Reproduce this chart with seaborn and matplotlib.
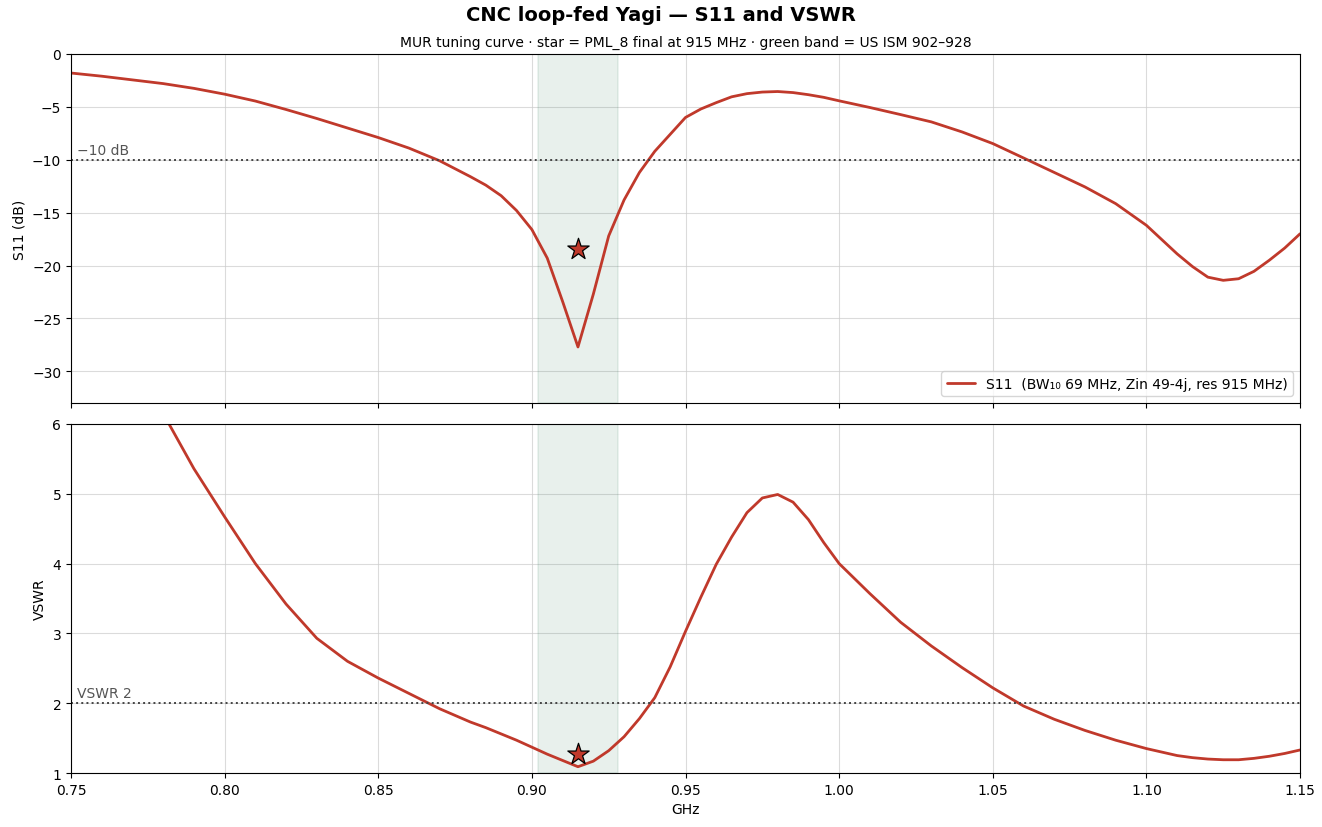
import numpy as np
import pandas as pd
import matplotlib
matplotlib.use("Agg")
import matplotlib.pyplot as plt
import seaborn as sns

# sweep points (GHz)
freq = [0.75, 0.76, 0.77, 0.78, 0.79, 0.80, 0.81, 0.82, 0.83, 0.84,
        0.85, 0.86, 0.87, 0.88, 0.885, 0.89, 0.895, 0.90, 0.905, 0.91,
        0.915, 0.92, 0.925, 0.93, 0.935, 0.94, 0.945, 0.95, 0.955, 0.96,
        0.965, 0.97, 0.975, 0.98, 0.985, 0.99, 0.995, 1.00, 1.01, 1.02,
        1.03, 1.04, 1.05, 1.06, 1.07, 1.08, 1.09, 1.10, 1.11, 1.115,
        1.12, 1.125, 1.13, 1.135, 1.14, 1.145, 1.15]

s11_db = [-1.8, -2.1, -2.45, -2.8, -3.25, -3.8, -4.45, -5.25, -6.1, -7.0,
          -7.9, -8.9, -10.1, -11.6, -12.4, -13.4, -14.8, -16.6, -19.3, -23.4,
          -27.7, -22.7, -17.2, -13.8, -11.2, -9.2, -7.6, -6.0, -5.2, -4.6,
          -4.05, -3.75, -3.6, -3.55, -3.65, -3.85, -4.1, -4.43, -5.06, -5.73,
          -6.42, -7.37, -8.47, -9.83, -11.2, -12.57, -14.15, -16.2, -18.9, -20.1,
          -21.1, -21.4, -21.25, -20.55, -19.5, -18.35, -17.0]

vswr = [8.6, 7.7, 6.9, 6.15, 5.36, 4.67, 4.0, 3.42, 2.93, 2.6,
        2.36, 2.14, 1.92, 1.73, 1.65, 1.56, 1.47, 1.37, 1.27, 1.18,
        1.09, 1.17, 1.32, 1.52, 1.78, 2.08, 2.52, 3.03, 3.52, 3.99,
        4.38, 4.73, 4.94, 4.99, 4.88, 4.63, 4.30, 4.0, 3.57, 3.16,
        2.82, 2.51, 2.22, 1.96, 1.77, 1.61, 1.47, 1.35, 1.25, 1.22,
        1.20, 1.19, 1.19, 1.21, 1.24, 1.28, 1.33]

# final PML_8 point
star_f = 0.915
star_s11 = -18.4
star_vswr = 1.27

ism_band = (0.902, 0.928)

df = pd.DataFrame({"GHz": freq, "S11": s11_db, "VSWR": vswr})

red = "#c0392b"

sns.set_style("ticks")
plt.rcParams.update({
    "font.family": ["DejaVu Sans"],
    "text.color": "black",
    "axes.labelcolor": "black",
    "xtick.color": "black",
    "ytick.color": "black",
    "axes.edgecolor": "black",
    "xtick.major.size": 3.5,
    "ytick.major.size": 3.5,
})

fig, (ax1, ax2) = plt.subplots(2, 1, figsize=(13.22, 8.28), dpi=100, sharex=True)
fig.subplots_adjust(left=0.0537, right=0.9834, top=0.9336, bottom=0.0652, hspace=0.06)

# top: S11
ax1.axvspan(*ism_band, facecolor="#2e7d5b", edgecolor="#2e7d5b", alpha=0.11, lw=1.2)
sns.lineplot(data=df, x="GHz", y="S11", ax=ax1, color=red, lw=2,
             label="S11  (BW\u2081\u2080 69 MHz, Zin 49-4j, res 915 MHz)")
ax1.scatter([star_f], [star_s11], marker="*", s=260, color=red,
            edgecolor="black", linewidth=0.9, zorder=5)
ax1.axhline(-10, color="#444444", ls=":", lw=1.4)
ax1.text(0.752, -9.75, "\u221210 dB", color="#555555", fontsize=10, va="bottom")
ax1.set_ylim(-33, 0)
ax1.set_ylabel("S11 (dB)")
ax1.set_title("MUR tuning curve \u00b7 star = PML_8 final at 915 MHz \u00b7 green band = US ISM 902\u2013928",
              fontsize=10, pad=6)
ax1.legend(loc="lower right", fontsize=10, frameon=True)

# bottom: VSWR
ax2.axvspan(*ism_band, facecolor="#2e7d5b", edgecolor="#2e7d5b", alpha=0.11, lw=1.2)
sns.lineplot(data=df, x="GHz", y="VSWR", ax=ax2, color=red, lw=2)
ax2.scatter([star_f], [star_vswr], marker="*", s=260, color=red,
            edgecolor="black", linewidth=0.9, zorder=5)
ax2.axhline(2, color="#444444", ls=":", lw=1.4)
ax2.text(0.752, 2.04, "VSWR 2", color="#555555", fontsize=10, va="bottom")
ax2.set_ylim(1, 6)
ax2.set_ylabel("VSWR")
ax2.set_xlabel("GHz")
ax2.set_xlim(0.75, 1.15)

for ax in (ax1, ax2):
    ax.grid(True, color="#cccccc", alpha=0.7, lw=0.8)
    for sp in ax.spines.values():
        sp.set_visible(True)
        sp.set_color("black")
    ax.tick_params(labelsize=10)

fig.suptitle("CNC loop-fed Yagi \u2014 S11 and VSWR", fontsize=14, fontweight="bold", y=0.993)

fig.savefig("out.png", dpi=100)
